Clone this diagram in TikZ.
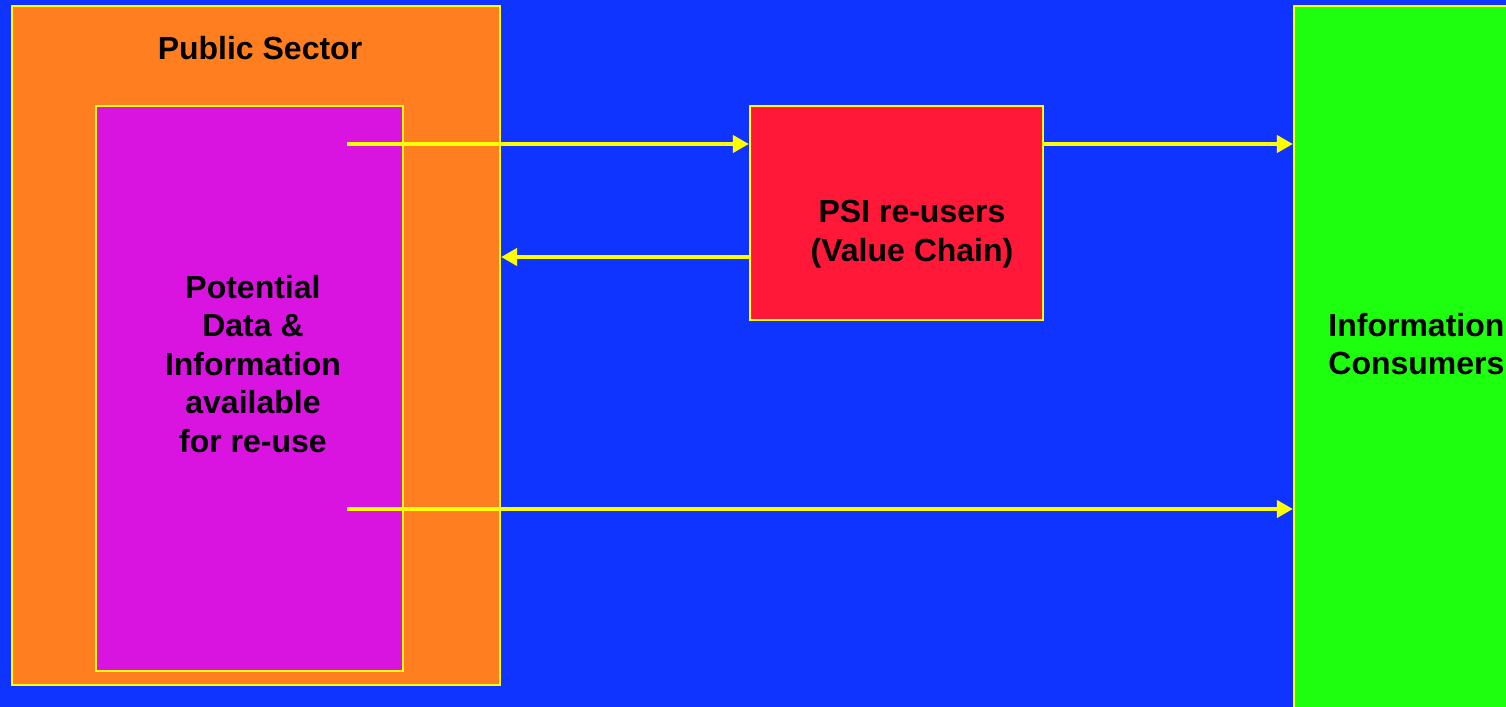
\documentclass[tikz,border=0pt]{standalone}
\usepackage{fontspec}
\setmainfont{Liberation Sans}
\usetikzlibrary{arrows.meta}
\definecolor{bgblue}{RGB}{16,52,255}
\definecolor{porange}{RGB}{255,127,32}
\definecolor{pmagenta}{RGB}{218,20,224}
\definecolor{pred}{RGB}{255,24,56}
\definecolor{pgreen}{RGB}{30,255,16}
\definecolor{pyellow}{RGB}{255,255,0}
\tikzset{
  box/.style={draw=pyellow, line width=1.1pt, inner sep=0pt, rectangle},
  lbl/.style={font=\fontsize{16}{19.25}\selectfont\bfseries, align=center, text=black, inner sep=0pt},
  flow/.style={draw=pyellow, line width=2pt, -{Triangle[length=8pt,width=8.5pt]}}
}
\begin{document}
\begin{tikzpicture}[x=0.5pt,y=-0.5pt]
\useasboundingbox (0,0) rectangle (1506,707);
\fill[bgblue] (0,0) rectangle (1506,707);
\begin{scope}
\clip (0,0) rectangle (1506,707);
\node[box, fill=porange, minimum width=244pt, minimum height=339.5pt] (ps) at (256,345.5) {};
\node[box, fill=pmagenta, minimum width=153.5pt, minimum height=282.5pt] (pd) at (249.5,388.5) {};
\node[box, fill=pred, minimum width=146.5pt, minimum height=107pt] (psi) at (896.5,213) {};
\node[box, fill=pgreen, minimum width=113pt, minimum height=357pt] (ic) at (1407,363) {};
\node[lbl] (pst) at (260,48) {Public Sector};
\node[lbl] (pdt) at (253,364) {Potential\\Data \&\\Information\\available\\for re-use};
\node[lbl] (psit) at (912,234) {PSI re-users\\(Value Chain)};
\node[lbl, align=left, anchor=west] (ict) at (1328,344) {Information\\Consumers};
\coordinate (s1) at (347,144);
\coordinate (s2) at (347,509);
\coordinate (r1) at (750,257);
\draw[flow] (s1) -- (s1 -| psi.west);
\draw[flow] (psi.east |- s1) -- (s1 -| ic.west);
\draw[flow] (r1) -- (r1 -| ps.east);
\draw[flow] (s2) -- (s2 -| ic.west);
\end{scope}
\end{tikzpicture}
\end{document}
